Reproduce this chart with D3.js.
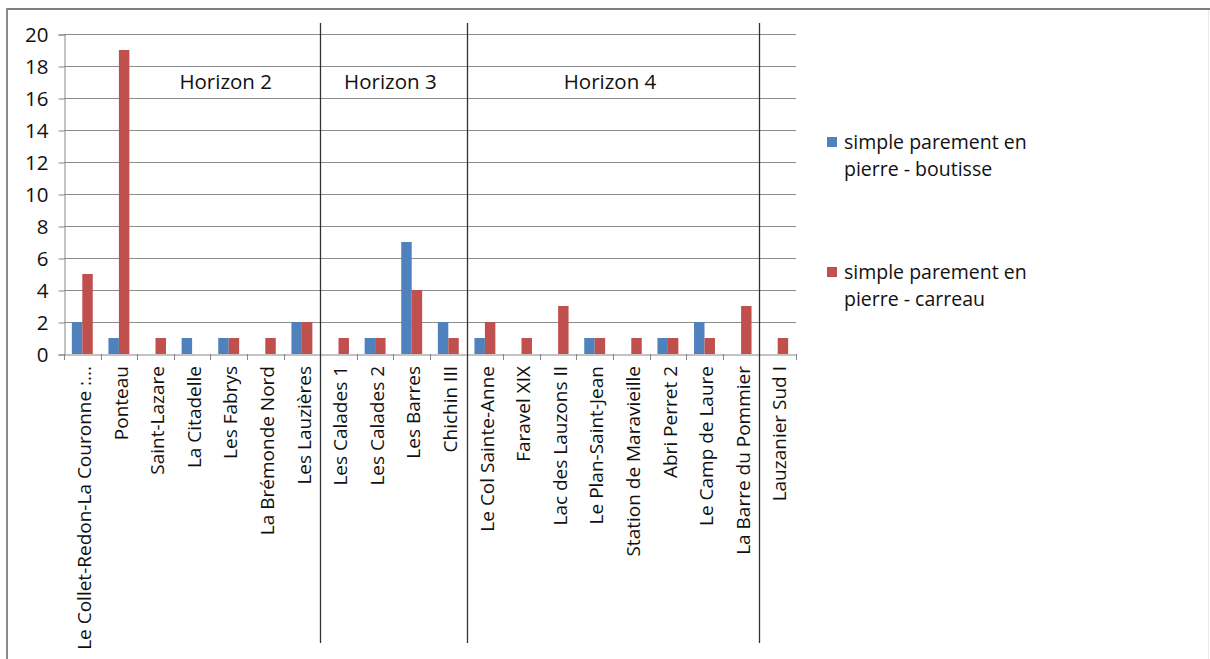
<!DOCTYPE html>
<html>
<head>
<meta charset="utf-8">
<script src="https://cdn.jsdelivr.net/npm/d3@7"></script>
<style>
  body { margin: 0; background: #fff; }
  svg { display: block; font-family: "Open Sans", sans-serif; }
</style>
</head>
<body>
<svg id="chart" width="1210" height="659"></svg>
<script>
// sites, in the order of the x axis
var sites = ["Le Collet-Redon-La Couronne :...", "Ponteau", "Saint-Lazare", "La Citadelle",
    "Les Fabrys", "La Brémonde Nord", "Les Lauzières", "Les Calades 1", "Les Calades 2",
    "Les Barres", "Chichin III", "Le Col Sainte-Anne", "Faravel XIX", "Lac des Lauzons II",
    "Le Plan-Saint-Jean", "Station de Maravieille", "Abri Perret 2", "Le Camp de Laure",
    "La Barre du Pommier", "Lauzanier Sud I"];

var seriesNames = ["simple parement en pierre - boutisse", "simple parement en pierre - carreau"];
var boutisse = [2, 1, 0, 1, 1, 0, 2, 0, 1, 7, 2, 1, 0, 0, 1, 0, 1, 2, 0, 0];
var carreau = [5, 19, 1, 0, 1, 1, 2, 1, 1, 4, 1, 2, 1, 3, 1, 1, 1, 1, 3, 1];
var yTicks = [0, 2, 4, 6, 8, 10, 12, 14, 16, 18, 20];

// horizon separators sit before these sites
var separatorsBefore = ["Les Calades 1", "Le Col Sainte-Anne", "Lauzanier Sud I"];
var horizonNames = ["Horizon 2", "Horizon 3", "Horizon 4"];
// label is centred over this run of sites
var horizonFrom = ["Les Fabrys", "Les Calades 2", "Le Plan-Saint-Jean"];
var horizonTo = ["Les Fabrys", "Les Barres", "Station de Maravieille"];

var colors = ["#4F81BD", "#C0504D"];

var svg = d3.select("#chart");

// outer frame
svg.append("line").attr("x1", 6).attr("x2", 1210).attr("y1", 9).attr("y2", 9)
    .style("stroke", "#7f7f7f").style("stroke-width", 2);
svg.append("line").attr("x1", 7).attr("x2", 7).attr("y1", 8).attr("y2", 659)
    .style("stroke", "#8a8a8a").style("stroke-width", 2);
svg.append("line").attr("x1", 1208.5).attr("x2", 1208.5).attr("y1", 10).attr("y2", 659)
    .style("stroke", "#e8e8e8").style("stroke-width", 1);

var plotLeft = 64, plotRight = 796, plotTop = 34, plotBottom = 354;

var x = d3.scaleBand().domain(sites).range([plotLeft, plotRight]);
// bars take 2/3.5 of the category, the gap 1.5/3.5
var xIn = d3.scaleBand().domain([0, 1])
    .range([x.bandwidth() * 0.75 / 3.5, x.bandwidth() * (1 - 0.75 / 3.5)]);

var y = d3.scaleLinear().domain([0, 20]).range([plotBottom, plotTop]);

// gridlines
svg.append("g")
    .selectAll("line").data(yTicks.filter(d => d > 0)).enter().append("line")
    .attr("x1", plotLeft).attr("x2", plotRight)
    .attr("y1", d => Math.round(y(d)) + 0.5).attr("y2", d => Math.round(y(d)) + 0.5)
    .style("stroke", "#8c8c8c").style("stroke-width", 1);

// y axis
var yAxis = svg.append("g")
    .attr("transform", "translate(" + (plotLeft + 0.5) + ",0.5)")
    .call(d3.axisLeft(y).tickValues(yTicks).tickSize(6).tickPadding(10));
yAxis.select(".domain").style("stroke", "#868686");
yAxis.selectAll(".tick line").style("stroke", "#868686");
yAxis.selectAll(".tick text")
    .style("font-family", "Open Sans").style("font-size", "20.5px").style("fill", "#111");

// bars
var rows = sites.map((s, i) => ({ site: s, values: [boutisse[i], carreau[i]] }));
var groups = svg.append("g").selectAll("g").data(rows).enter().append("g")
    .attr("transform", d => "translate(" + x(d.site) + ",0)");
groups.selectAll("rect").data(d => d.values).enter().append("rect")
    .attr("x", (d, i) => xIn(i))
    .attr("width", xIn.bandwidth())
    .attr("y", d => y(d))
    .attr("height", d => y(0) - y(d))
    .style("fill", (d, i) => colors[i]);

// x axis
var xAxis = svg.append("g")
    .attr("transform", "translate(0," + (plotBottom + 0.5) + ")")
    .call(d3.axisBottom(x).tickSize(0).tickFormat(""));
xAxis.select(".domain").style("stroke", "#868686");
xAxis.selectAll(".tick").remove();

// ticks between categories
svg.append("g").selectAll("line").data(d3.range(sites.length + 1)).enter().append("line")
    .attr("x1", i => Math.round(plotLeft + i * x.step()) + 0.5)
    .attr("x2", i => Math.round(plotLeft + i * x.step()) + 0.5)
    .attr("y1", plotBottom).attr("y2", plotBottom + 6)
    .style("stroke", "#868686");

// category labels
svg.append("g").selectAll("text").data(sites).enter().append("text")
    .attr("transform", d => "translate(" + (x(d) + x.bandwidth() / 2 + 2) + "," + (plotBottom + 12) + ") rotate(-90)")
    .attr("dy", "0.35em")
    .attr("text-anchor", "end")
    .style("font-size", "19px")
    .style("fill", "#111")
    .text(d => d);

// horizon separators
svg.append("g").selectAll("line").data(separatorsBefore).enter().append("line")
    .attr("x1", d => Math.round(x(d)) + 0.5).attr("x2", d => Math.round(x(d)) + 0.5)
    .attr("y1", 23).attr("y2", 643)
    .style("stroke", "#333").style("stroke-width", 1.3);

// horizon labels
svg.append("g").selectAll("text").data(horizonNames).enter().append("text")
    .attr("x", (d, i) => (x(horizonFrom[i]) + x(horizonTo[i]) + x.bandwidth()) / 2 - 3)
    .attr("y", 89)
    .attr("text-anchor", "middle")
    .style("font-size", "20.5px")
    .style("fill", "#111")
    .text(d => d);

// legend
var legendY = [137, 267];
var legend = svg.append("g").selectAll("g").data(seriesNames).enter().append("g")
    .attr("transform", (d, i) => "translate(827," + legendY[i] + ")");
legend.append("rect").attr("width", 10).attr("height", 10)
    .style("fill", (d, i) => colors[i]);
legend.append("text")
    .attr("x", 17).attr("y", 12)
    .style("font-size", "19.5px").style("fill", "#111")
    .text(d => d.split(" pierre")[0]);
legend.append("text")
    .attr("x", 17).attr("y", 39)
    .style("font-size", "19.5px").style("fill", "#111")
    .text(d => "pierre" + d.split(" pierre")[1]);
</script>
</body>
</html>
